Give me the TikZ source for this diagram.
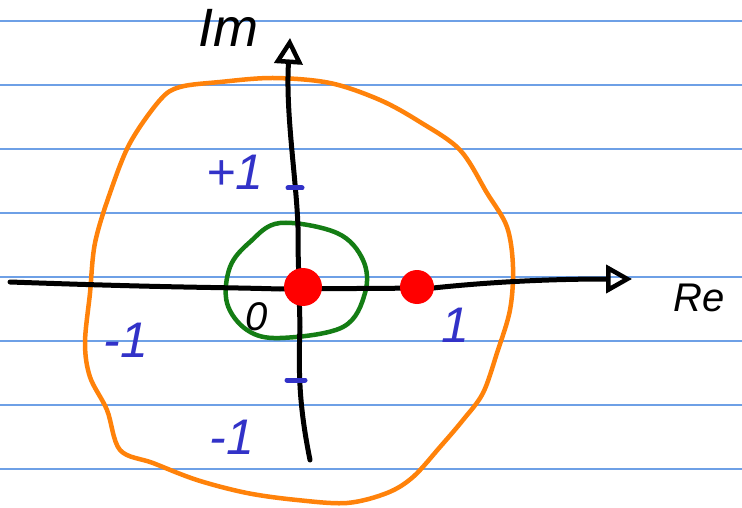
\documentclass[tikz,border=0pt]{standalone}
\usepackage{fontspec}
\setmainfont{Liberation Sans}
\usetikzlibrary{arrows.meta, positioning, calc}

\definecolor{ruleblue}{RGB}{110,160,230}
\definecolor{penblue}{RGB}{50,50,200}
\definecolor{penorange}{RGB}{255,130,10}
\definecolor{pengreen}{RGB}{20,125,20}

\begin{document}
\begin{tikzpicture}[
    x=1pt, y=-1pt,
    axis/.style={line width=5pt, line cap=round, line join=round,
                 -{Triangle[open, length=26pt, width=28pt, line width=4.5pt]}},
    pen/.style={line width=4.5pt, line cap=round, line join=round},
    lbl/.style={text=penblue, font=\fontsize{50}{50}\selectfont\itshape, inner sep=0pt},
    tick/.style={penblue, line width=5pt, line cap=round},
    dot/.style={circle, fill=red, inner sep=0pt}
]
\useasboundingbox (0,0) rectangle (742,508);
\fill[white] (0,0) rectangle (742,508);

% ruled paper
\foreach \y in {21,85,149,213,277,341,405,469}
    \draw[ruleblue, line width=1.4pt] (0,\y) -- (742,\y);

% orange loop
\draw[pen, penorange] plot[smooth cycle, tension=0.55] coordinates {
    (273,78) (330,83) (380,100) (420,122) (460,150) (487,193) (507,227)
    (513,267) (510,310) (497,353) (483,393) (463,420) (440,447) (413,477)
    (387,493) (347,503) (297,500) (247,493) (197,480) (153,463) (120,450)
    (107,410) (90,377) (85,343) (90,293) (95,243) (110,193) (130,143)
    (160,100) (180,87) (220,82)};

% green loop
\draw[pen, pengreen] plot[smooth cycle, tension=0.6] coordinates {
    (280,223) (337,233) (363,260) (365,293) (343,327) (280,338)
    (247,330) (227,303) (230,267) (250,242)};

% axes
\coordinate (reL) at (10,282);
\coordinate (reR) at (632,279);
\coordinate (imB) at (310,460);
\coordinate (imT) at (290,38);
\draw[axis] (reL) .. controls (180,288) and (213,287) .. (280,289)
    -- (433,288) .. controls (480,283) and (540,279) .. (reR);
\draw[axis] (imB) .. controls (300,410) and (298,377) .. (300,327)
    -- (298,247) .. controls (300,200) and (285,120) .. (imT);

% ticks on the imaginary axis
\draw[tick] (288,188) -- (302,188);
\draw[tick] (287,380) -- (305,380);

% zeros
\node[dot, minimum size=38pt] (z0) at (303,287) {};
\node[dot, minimum size=34pt] (z1) at (417,287) {};

% labels
\node[font=\fontsize{54}{54}\selectfont\itshape] (im) at (228,28) {Im};
\node[font=\fontsize{40}{40}\selectfont\itshape, anchor=west] (re) at (670,298) {Re};
\node[font=\fontsize{40}{40}\selectfont\itshape, inner sep=0pt] (orig) at (257,317) {0};
\node[lbl] (plusone) at (235,172) {+1};
\node[lbl] (minusone) at (126,340) {-1};
\node[lbl] (minusonelow) at (232,437) {-1};
\node[lbl] (one) at (455,325) {1};
\end{tikzpicture}
\end{document}
